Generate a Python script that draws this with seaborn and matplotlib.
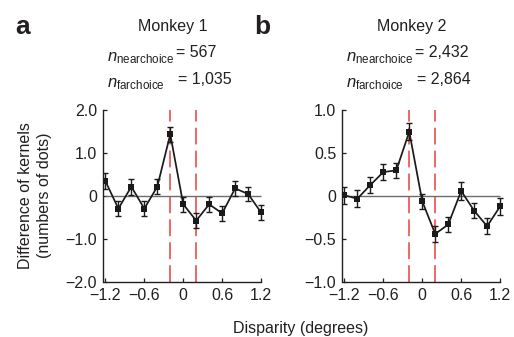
import numpy as np
import matplotlib
matplotlib.use("Agg")
import matplotlib.pyplot as plt
import seaborn as sns
import pandas as pd

# ── Data ─────────────────────────────────────────────
disparity = [-1.2, -1.0, -0.8, -0.6, -0.4, -0.2, 0.0, 0.2, 0.4, 0.6, 0.8, 1.0, 1.2]
monkey1_kernel = [0.35, -0.29, 0.22, -0.29, 0.22, 1.44, -0.19, -0.57, -0.19, -0.40, 0.18, 0.05, -0.38]
monkey1_err = [0.19, 0.18, 0.19, 0.18, 0.18, 0.18, 0.18, 0.17, 0.18, 0.18, 0.18, 0.17, 0.17]
monkey2_kernel = [0.01, -0.03, 0.13, 0.28, 0.30, 0.75, -0.06, -0.44, -0.33, 0.06, -0.17, -0.35, -0.12]
monkey2_err = [0.10, 0.10, 0.09, 0.09, 0.09, 0.10, 0.09, 0.09, 0.09, 0.10, 0.09, 0.09, 0.10]
boundaries = [-0.2, 0.2]

panels = [
    {"letter": "a", "title": "Monkey 1", "near": "567", "far": "1,035",
     "y": monkey1_kernel, "err": monkey1_err,
     "ylim": (-2.0, 2.0), "yticks": [-2.0, -1.0, 0, 1.0, 2.0],
     "yticklabels": ["\u22122.0", "\u22121.0", "0", "1.0", "2.0"]},
    {"letter": "b", "title": "Monkey 2", "near": "2,432", "far": "2,864",
     "y": monkey2_kernel, "err": monkey2_err,
     "ylim": (-1.0, 1.0), "yticks": [-1.0, -0.5, 0, 0.5, 1.0],
     "yticklabels": ["\u22121.0", "\u22120.5", "0", "0.5", "1.0"]},
]
xticks = [-1.2, -0.6, 0, 0.6, 1.2]
xticklabels = ["\u22121.2", "\u22120.6", "0", "0.6", "1.2"]

# ── Style ────────────────────────────────────────────
sns.set_style("ticks")
plt.rcParams["font.family"] = ["Liberation Sans", "DejaVu Sans"]
plt.rcParams["mathtext.fontset"] = "custom"
plt.rcParams["mathtext.rm"] = "Liberation Sans"
plt.rcParams["mathtext.it"] = "Liberation Sans:italic"
TEXT = "#231f20"
RED = "#e8403c"

fig = plt.figure(figsize=(5.14, 3.37), dpi=100)
lefts = [0.200, 0.665]

for left, p in zip(lefts, panels):
    ax = fig.add_axes([left, 0.163, 0.313, 0.510])
    df = pd.DataFrame({"x": disparity, "y": p["y"]})

    ax.hlines(0, disparity[0], disparity[-1], color="#6d6d6d", lw=1.0, zorder=1)
    for b in boundaries:
        ax.axvline(b, color=RED, lw=1.1, dashes=(11, 4), zorder=2)

    ax.errorbar(disparity, p["y"], yerr=p["err"], fmt="none",
                ecolor="#1a1a1a", elinewidth=1.0, capsize=2.2, capthick=1.0, zorder=3)
    sns.lineplot(data=df, x="x", y="y", ax=ax, color="#1a1a1a", lw=1.25,
                 marker="s", markersize=4.5, markeredgewidth=0, zorder=4)

    ax.set_xlim(-1.24, 1.24)
    ax.set_ylim(*p["ylim"])
    ax.set_xticks(xticks)
    ax.set_xticklabels(xticklabels)
    ax.set_yticks(p["yticks"])
    ax.set_yticklabels(p["yticklabels"])
    ax.set_xlabel("")
    ax.set_ylabel("")
    ax.tick_params(direction="in", length=3, width=0.9, labelsize=11.5,
                   colors=TEXT, pad=4)
    for s in ["left", "bottom"]:
        ax.spines[s].set_linewidth(1.0)
        ax.spines[s].set_color(TEXT)
    sns.despine(ax=ax, trim=True)

    cx = left + 0.313 / 2
    fig.text(left - 0.17, 0.92, p["letter"], fontsize=19, fontweight="bold",
             color=TEXT, ha="left", va="center")
    fig.text(cx - 0.02, 0.92, p["title"], fontsize=11.5, color=TEXT,
             ha="center", va="center")
    fig.text(left + 0.008, 0.826, r"$n_{\mathrm{nearchoice}}$", fontsize=12,
             color=TEXT, ha="left", va="center")
    fig.text(left + 0.008, 0.750, r"$n_{\mathrm{farchoice}}$", fontsize=12,
             color=TEXT, ha="left", va="center")
    fig.text(left + 0.143, 0.843, "= " + p["near"], fontsize=11.5, color=TEXT,
             ha="left", va="center")
    fig.text(left + 0.147, 0.765, "= " + p["far"], fontsize=11.5, color=TEXT,
             ha="left", va="center")

fig.text(0.068, 0.42, "Difference of kernels\n(numbers of dots)", rotation=90,
         fontsize=11.5, color=TEXT, ha="center", va="center", linespacing=1.4)
fig.text(0.585, 0.025, "Disparity (degrees)", fontsize=11.5, color=TEXT,
         ha="center", va="center")

fig.savefig("out.png", dpi=100)
plt.close(fig)
